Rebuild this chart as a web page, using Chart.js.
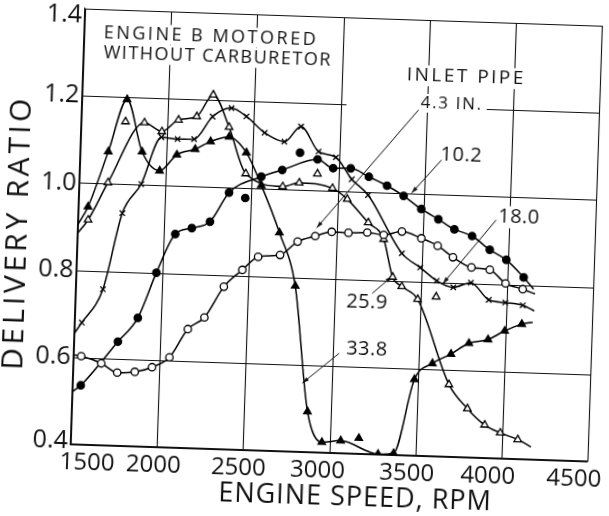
<!DOCTYPE html>
<html>
<head>
<meta charset="utf-8">
<script src="https://cdn.jsdelivr.net/npm/chart.js@4.4.0/dist/chart.umd.min.js"></script>
<style>
  html, body { margin: 0; padding: 0; background: #fff; overflow: hidden; }
  #chart { display: block; transform: rotate(1.9deg); transform-origin: 50% 50%; }
</style>
</head>
<body>
<canvas id="chart" width="609" height="516"></canvas>
<script>
// ─── DATOS ────────────────────────────────────────────────────────────────
const xTickValues = [1500, 2000, 2500, 3000, 3500, 4000, 4500];
const yTickValues = [0.4, 0.6, 0.8, 1.0, 1.2, 1.4];

// Inlet pipe 4.3 in. (open circles) - first and last entries are curve ends
const pipe43Rpm = [1500, 1544, 1662, 1756, 1858, 1957, 2056, 2157, 2251, 2358, 2462, 2551, 2678, 2777, 2878, 2973, 3070, 3179, 3275, 3380, 3494, 3590, 3681, 3790, 3897, 3991, 4092, 4164];
const pipe43Val = [0.605, 0.603, 0.588, 0.568, 0.571, 0.583, 0.607, 0.673, 0.701, 0.773, 0.813, 0.844, 0.850, 0.882, 0.896, 0.907, 0.906, 0.908, 0.904, 0.913, 0.899, 0.883, 0.858, 0.836, 0.832, 0.802, 0.790, 0.780];

// Inlet pipe 10.2 in. (filled circles)
const pipe102Rpm = [1500, 1547, 1754, 1865, 1964, 2066, 2161, 2265, 2370, 2554, 2674, 2877, 2969, 3071, 3178, 3285, 3383, 3488, 3589, 3684, 3788, 3893, 3991, 4095, 4155];
const pipe102Val = [0.521, 0.536, 0.639, 0.695, 0.800, 0.890, 0.905, 0.921, 0.989, 1.028, 1.045, 1.072, 1.053, 1.054, 1.036, 1.017, 0.995, 0.966, 0.944, 0.922, 0.908, 0.878, 0.856, 0.817, 0.791];
const pipe102StrayRpm = [2465, 2774];
const pipe102StrayVal = [0.978, 1.086];

// Inlet pipe 18.0 in. (crosses)
const pipe180Rpm = [1500, 1541, 1657, 1755, 1859, 1967, 2061, 2157, 2260, 2368, 2456, 2565, 2681, 2775, 2881, 2983, 3079, 3177, 3384, 3493, 3591, 3689, 3790, 3897, 3993, 4095, 4163];
const pipe180Val = [0.655, 0.680, 0.758, 0.934, 1.002, 1.111, 1.108, 1.109, 1.162, 1.183, 1.165, 1.129, 1.110, 1.146, 1.090, 1.078, 1.029, 0.994, 0.863, 0.832, 0.803, 0.789, 0.801, 0.763, 0.758, 0.753, 0.741];

// Inlet pipe 25.9 in. (open triangles)
const pipe259Rpm = [1500, 1558, 1666, 1866, 1969, 2063, 2168, 2260, 2358, 2463, 2680, 2775, 2969, 3057, 3183, 3276, 3335, 3390, 3484, 3682, 3794, 3897, 3989, 4092, 4170];
const pipe259Val = [0.885, 0.916, 1.003, 1.143, 1.124, 1.152, 1.161, 1.212, 1.139, 1.034, 1.007, 1.017, 1.007, 0.983, 0.931, 0.894, 0.808, 0.787, 0.759, 0.566, 0.512, 0.476, 0.459, 0.445, 0.429];
const pipe259StrayRpm = [1756, 2879, 3591];
const pipe259StrayVal = [1.144, 1.039, 0.766];

// Inlet pipe 33.8 in. (filled triangles)
const pipe338Rpm = [1500, 1555, 1662, 1761, 1858, 1963, 2060, 2165, 2253, 2360, 2463, 2556, 2670, 2772, 2867, 2956, 3065, 3284, 3374, 3481, 3582, 3688, 3790, 3900, 3995, 4093, 4156];
const pipe338Val = [0.905, 0.946, 1.074, 1.195, 1.076, 1.034, 1.072, 1.086, 1.105, 1.117, 1.082, 1.008, 0.901, 0.780, 0.493, 0.424, 0.429, 0.401, 0.404, 0.575, 0.613, 0.636, 0.662, 0.672, 0.693, 0.710, 0.715];
const pipe338StrayRpm = [3170];
const pipe338StrayVal = [0.436];

// ─── ANOTACIONES ──────────────────────────────────────────────────────────
const FONT = "'Open Sans', 'DejaVu Sans', sans-serif";

const labels = [
  { text: "ENGINE B MOTORED",   rpm: 1613, val: 1.346, size: 18, spacing: 2.5, align: "left" },
  { text: "WITHOUT CARBURETOR", rpm: 1616, val: 1.300, size: 18, spacing: 1.5, align: "left" },
  { text: "INLET PIPE",         rpm: 3378, val: 1.272, size: 19, spacing: 2.5, align: "left" },
  { text: "4.3 IN.",            rpm: 3464, val: 1.209, size: 17, spacing: 1.7, align: "left", extraLeft: 70 },
  { text: "10.2",               rpm: 3710, val: 1.093, size: 20, spacing: 0.5, align: "center" },
  { text: "18.0",               rpm: 4056, val: 0.954, size: 20, spacing: 0.5, align: "center" },
  { text: "25.9",               rpm: 3191, val: 0.747, size: 20, spacing: 0.5, align: "center" },
  { text: "33.8",               rpm: 3200, val: 0.639, size: 20, spacing: 0.5, align: "center" }
];

// leader lines: [from rpm, from val, to rpm, to val]
const leaders = [
  [3453, 1.193, 2885, 0.915],
  [3596, 1.080, 3429, 1.002],
  [3925, 0.947, 3628, 0.797],
  [3219, 0.769, 3331, 0.809],
  [3039, 0.629, 2832, 0.558]
];

// hand-lettered tick labels sit a little off their grid lines (px)
const xLabelNudge = [17, -3, -4, -11, -8, -13, -13];
const yLabelNudge = [-3, 0, 0, 0, 0, 7];

// ─── HELPERS ──────────────────────────────────────────────────────────────
const pts = (xs, ys) => xs.map((x, i) => ({ x, y: ys[i] }));

function curve(xs, ys, style, filled, radius) {
  const last = xs.length - 1;
  return {
    data: pts(xs, ys),
    borderColor: "#000",
    borderWidth: 1.5,
    cubicInterpolationMode: "monotone",
    pointStyle: style,
    pointRadius: ctx => (ctx.dataIndex === 0 || ctx.dataIndex === last) ? 0 : radius,
    pointBackgroundColor: filled ? "#000" : "#fff",
    pointBorderColor: "#000",
    pointBorderWidth: 1.3,
    fill: false
  };
}

function stray(xs, ys, style, filled, radius) {
  return {
    data: pts(xs, ys),
    showLine: false,
    pointStyle: style,
    pointRadius: radius,
    pointBackgroundColor: filled ? "#000" : "#fff",
    pointBorderColor: "#000",
    pointBorderWidth: 1.3
  };
}

// ─── PLUGINS ──────────────────────────────────────────────────────────────
const paperPlugin = {
  id: "paper",
  beforeDraw(chart) {
    const c = chart.ctx;
    c.save();
    c.fillStyle = "#fff";
    c.fillRect(0, 0, chart.width, chart.height);
    c.restore();
  },
  beforeDatasetsDraw(chart) {
    const c = chart.ctx;
    const xs = chart.scales.x, ys = chart.scales.y;
    const area = chart.chartArea;
    c.save();

    // grid
    c.strokeStyle = "#111";
    c.lineWidth = 1.1;
    c.beginPath();
    xTickValues.forEach(v => {
      const px = Math.round(xs.getPixelForValue(v)) + 0.5;
      c.moveTo(px, area.top);
      c.lineTo(px, area.bottom);
    });
    yTickValues.forEach(v => {
      const py = Math.round(ys.getPixelForValue(v)) + 0.5;
      c.moveTo(area.left, py);
      c.lineTo(area.right, py);
    });
    c.stroke();

    // tick labels
    c.fillStyle = "#111";
    c.font = `24px ${FONT}`;
    c.textAlign = "center";
    c.textBaseline = "middle";
    xTickValues.forEach((v, i) => {
      c.fillText(String(v), xs.getPixelForValue(v) + xLabelNudge[i], area.bottom + 18);
    });
    c.font = `25px ${FONT}`;
    c.textAlign = "right";
    yTickValues.forEach((v, i) => {
      c.fillText(v.toFixed(1), area.left - 3, ys.getPixelForValue(v) + yLabelNudge[i]);
    });

    // text blocks, white behind so grid lines break
    c.textAlign = "left";
    labels.forEach(l => {
      c.font = `${l.size}px ${FONT}`;
      c.letterSpacing = l.spacing + "px";
      const w = c.measureText(l.text).width;
      const px = xs.getPixelForValue(l.rpm);
      const py = ys.getPixelForValue(l.val);
      const left = l.align === "center" ? px - w / 2 : px;
      c.fillStyle = "#fff";
      c.fillRect(left - 4 - (l.extraLeft || 0), py - l.size * 0.55, w + 8 + (l.extraLeft || 0), l.size * 1.1);
      c.fillStyle = "#111";
      c.fillText(l.text, left, py);
    });
    c.letterSpacing = "0px";

    // leaders with small arrow heads
    c.strokeStyle = "#111";
    c.fillStyle = "#111";
    c.lineWidth = 1;
    leaders.forEach(([r0, v0, r1, v1]) => {
      const x0 = xs.getPixelForValue(r0), y0 = ys.getPixelForValue(v0);
      const x1 = xs.getPixelForValue(r1), y1 = ys.getPixelForValue(v1);
      c.beginPath();
      c.moveTo(x0, y0);
      c.lineTo(x1, y1);
      c.stroke();
      const a = Math.atan2(y1 - y0, x1 - x0);
      c.beginPath();
      c.moveTo(x1, y1);
      c.lineTo(x1 - 7 * Math.cos(a - 0.3), y1 - 7 * Math.sin(a - 0.3));
      c.lineTo(x1 - 7 * Math.cos(a + 0.3), y1 - 7 * Math.sin(a + 0.3));
      c.closePath();
      c.fill();
    });
    c.restore();
  },
  afterDraw(chart) {
    const c = chart.ctx;
    c.save();
    c.fillStyle = "#111";
    c.textAlign = "center";
    c.textBaseline = "middle";

    c.font = `30px ${FONT}`;
    c.letterSpacing = "3.5px";
    c.translate(17, 242);
    c.rotate(-Math.PI / 2);
    c.fillText("DELIVERY RATIO", 0, 0);
    c.setTransform(1, 0, 0, 1, 0, 0);

    c.font = `27px ${FONT}`;
    c.letterSpacing = "1px";
    c.fillText("ENGINE SPEED, RPM", 363, 496);
    c.restore();
  }
};

// ─── CHART ────────────────────────────────────────────────────────────────
new Chart(document.getElementById("chart"), {
  type: "line",
  data: {
    datasets: [
      curve(pipe43Rpm, pipe43Val, "circle", false, 3.7),
      curve(pipe102Rpm, pipe102Val, "circle", true, 3.7),
      stray(pipe102StrayRpm, pipe102StrayVal, "circle", true, 3.7),
      curve(pipe180Rpm, pipe180Val, "crossRot", false, 3.8),
      curve(pipe259Rpm, pipe259Val, "triangle", false, 4.3),
      stray(pipe259StrayRpm, pipe259StrayVal, "triangle", false, 4.3),
      curve(pipe338Rpm, pipe338Val, "triangle", true, 4.3),
      stray(pipe338StrayRpm, pipe338StrayVal, "triangle", true, 4.3)
    ]
  },
  options: {
    responsive: false,
    animation: false,
    devicePixelRatio: 1,
    layout: { padding: { top: 16, right: 15, left: 0, bottom: 0 } },
    plugins: {
      legend: { display: false },
      tooltip: { enabled: false }
    },
    scales: {
      x: {
        type: "linear",
        min: 1500,
        max: 4500,
        afterBuildTicks: s => { s.ticks = xTickValues.map(v => ({ value: v })); },
        afterFit: s => { s.height = 64; s.paddingLeft = 0; s.paddingRight = 0; },
        ticks: { display: false },
        grid: { display: false },
        border: { color: "#111", width: 1.3 }
      },
      y: {
        type: "linear",
        min: 0.4,
        max: 1.4,
        afterBuildTicks: s => { s.ticks = yTickValues.map(v => ({ value: v })); },
        afterFit: s => { s.width = 77; s.paddingTop = 0; s.paddingBottom = 0; },
        ticks: { display: false },
        grid: { display: false },
        border: { color: "#111", width: 1.3 }
      }
    }
  },
  plugins: [paperPlugin]
});
</script>
</body>
</html>
